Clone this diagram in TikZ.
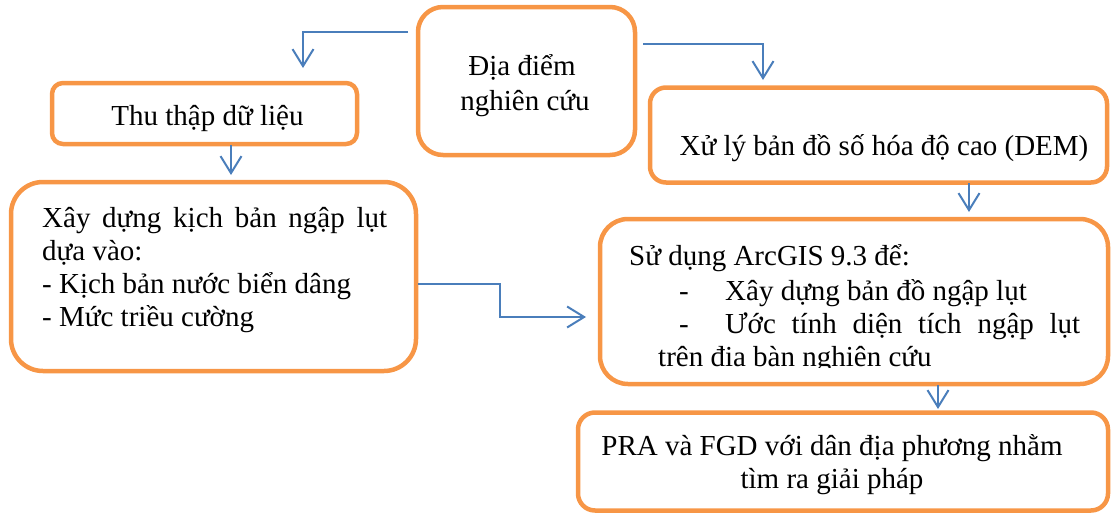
\documentclass[tikz,border=0pt]{standalone}
\usepackage{fontspec}
\setmainfont{Liberation Serif}
\usetikzlibrary{arrows.meta}
\definecolor{boxorange}{HTML}{F79646}
\definecolor{arrowblue}{HTML}{4A7EBB}
\tikzset{
  obox/.style={draw=boxorange, line width=4.5pt, inner sep=0pt},
  conn/.style={draw=arrowblue, line width=2pt},
  arr/.style={conn, -{Straight Barb[length=17pt,width=21pt,line width=2pt]}},
  txt/.style={inner sep=0pt, font=\fontsize{29}{33}\selectfont},
}
\begin{document}
\begin{tikzpicture}[x=1pt,y=-1pt]
\useasboundingbox (0,0) rectangle (1111,514);
% boxes
\node[obox, minimum width=217pt, minimum height=148pt, rounded corners=25pt] (dd) at (526.5,81) {};
\node[obox, minimum width=305pt, minimum height=61pt, rounded corners=11pt] (thu) at (204.5,113.5) {};
\node[obox, minimum width=457pt, minimum height=95pt, rounded corners=16pt] (dem) at (878.5,135) {};
\node[obox, minimum width=405pt, minimum height=189pt, rounded corners=32pt] (kb) at (213.5,276.5) {};
\node[obox, minimum width=508pt, minimum height=165pt, rounded corners=28pt] (gis) at (854,301.5) {};
\node[obox, minimum width=530pt, minimum height=98pt, rounded corners=17pt] (pra) at (843,461.5) {};
% texts
\node[txt, anchor=base] (dd1) at (522,75) {Địa điểm};
\node[txt, anchor=base] (dd2) at (525,110) {nghiên cứu};
\node[txt, anchor=base] (thut) at (207.5,125) {Thu thập dữ liệu};
\node[txt, anchor=base] (demt) at (884,155) {Xử lý bản đồ số hóa độ cao (DEM)};
\node[txt, anchor=base west] (kb1) at (42,227) {\makebox[345pt][s]{Xây dựng kịch bản ngập lụt}};
\node[txt, anchor=base west] (kb2) at (42,260) {dựa vào:};
\node[txt, anchor=base west] (kb3) at (42,293) {- Kịch bản nước biển dâng};
\node[txt, anchor=base west] (kb4) at (42,326) {- Mức triều cường};
\node[txt, anchor=base west] (gis1) at (629,265) {Sử dụng ArcGIS 9.3 để:};
\node[txt, anchor=base west] (gisd1) at (679,300) {-};
\node[txt, anchor=base west] (gis2) at (725,300) {Xây dựng bản đồ ngập lụt};
\node[txt, anchor=base west] (gisd2) at (679,333) {-};
\node[txt, anchor=base west] (gis3) at (725,333) {\makebox[355pt][s]{Ước tính diện tích ngập lụt}};
\begin{scope}
\clip (600,340) rectangle (1108,367);
\node[txt, anchor=base west] (gis4) at (658,366) {trên đia bàn nghiên cứu};
\end{scope}
\node[txt, anchor=base] (pra1) at (832,455) {PRA và FGD với dân địa phương nhằm};
\node[txt, anchor=base] (pra2) at (832,488) {tìm ra giải pháp};
% connector points
\coordinate (a1s) at (408,32);
\coordinate (a1e) at (303,68);
\coordinate (a2s) at (643,44);
\coordinate (a2e) at (763,80);
\coordinate (a3s) at (231,145);
\coordinate (a3e) at (231,175);
\coordinate (a4s) at (969,183);
\coordinate (a4e) at (969,212);
\coordinate (a5s) at (418,284);
\coordinate (a5e) at (586,317);
\coordinate (a6s) at (938,385);
\coordinate (a6e) at (938,409);
% connectors
\draw[arr] (a1s) -| (a1e);
\draw[arr] (a2s) -| (a2e);
\draw[arr] (a3s) -- (a3e);
\draw[arr] (a4s) -- (a4e);
\draw[arr] (a5s) -- (500,284) |- (a5e);
\draw[arr] (a6s) -- (a6e);
\end{tikzpicture}
\end{document}
